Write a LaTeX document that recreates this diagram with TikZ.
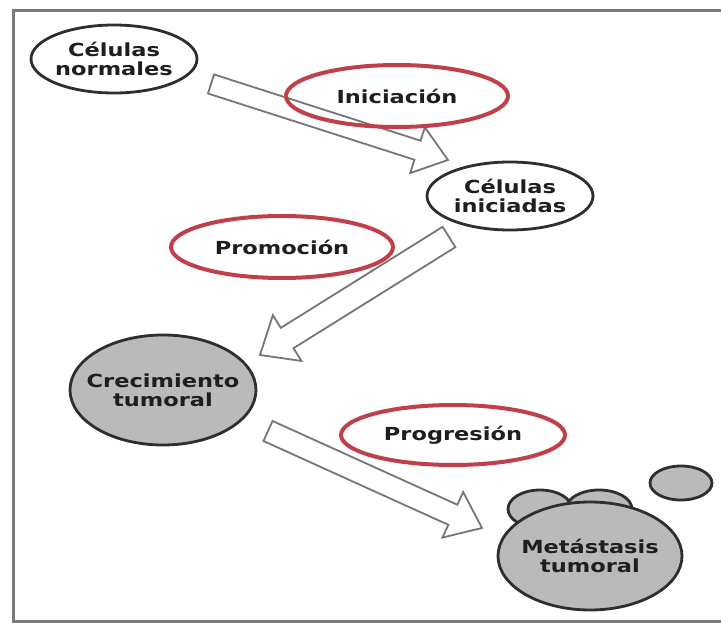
\documentclass[tikz,border=0pt]{standalone}
\usepackage{fontspec}
\newfontfamily\lblfont{DejaVu Sans}[FakeStretch=1.25]
\usetikzlibrary{shapes.geometric}
\definecolor{framegray}{HTML}{7A7A7A}
\definecolor{arrowgray}{HTML}{767676}
\definecolor{ringred}{HTML}{C0404A}
\definecolor{ringblack}{HTML}{2E2E2E}
\definecolor{tumorgray}{HTML}{BABABA}
\definecolor{txtcol}{HTML}{1E1E1E}
\newcommand{\blockarrow}[5]{%
  \begin{scope}
    \path (#1); \pgfgetlastxy{\bax}{\bay}
    \path (#2); \pgfgetlastxy{\bbx}{\bby}
    \pgfmathsetmacro{\bang}{atan2(\bby-\bay,\bbx-\bax)}
    \pgfmathsetmacro{\blen}{veclen(\bbx-\bax,\bby-\bay)}
    \draw[barrow, shift={(\bax,\bay)}, rotate=\bang]
      (0pt,-#3) -- ({\blen pt-#5},-#3) -- ({\blen pt-#5},-#4) -- (\blen pt,0pt)
      -- ({\blen pt-#5},#4) -- ({\blen pt-#5},#3) -- (0pt,#3) -- cycle;
  \end{scope}}
\begin{document}
\begin{tikzpicture}[x=1pt,y=-1pt,
  blackring/.style={ellipse, inner sep=0pt, draw=ringblack, line width=2.8pt, fill=white},
  redring/.style={ellipse, inner sep=0pt, draw=ringred, line width=4pt},
  tumor/.style={ellipse, inner sep=0pt, draw=ringblack, line width=2.8pt, fill=tumorgray},
  txt/.style={font=\lblfont\bfseries\fontsize{18pt}{19pt}\selectfont, text=txtcol, align=center, inner sep=0pt},
  barrow/.style={draw=arrowgray, line width=1.8pt, fill=white, line join=miter},
  framestyle/.style={draw=framegray, line width=3pt}]
\useasboundingbox (0,0) rectangle (721,623);
\draw[framestyle] (721,11) -- (13,11) -- (13,621) -- (721,621);

% arrows
\coordinate (a1s) at (211,84);  \coordinate (a1e) at (448,160);
\coordinate (a2s) at (449,237); \coordinate (a2e) at (260,355);
\coordinate (a3s) at (268,431); \coordinate (a3e) at (482,528);
\blockarrow{a1s}{a1e}{10pt}{24pt}{32pt}
\blockarrow{a2s}{a2e}{12pt}{27pt}{32pt}
\blockarrow{a3s}{a3e}{11pt}{25pt}{32pt}

% white cells
\node[blackring, minimum width=166pt, minimum height=68pt,
      label={[txt]center:{Células\\normales}}] (normal) at (114,59) {};
\node[blackring, minimum width=166pt, minimum height=68pt,
      label={[txt]center:{Células\\iniciadas}}] (inic) at (510,196) {};

% stage labels
\node[redring, minimum width=222pt, minimum height=62pt,
      label={[txt]center:{Iniciación}}] (ini) at (397,96) {};
\node[redring, minimum width=222pt, minimum height=62pt,
      label={[txt]center:{Promoción}}] (prom) at (282,247) {};
\node[redring, minimum width=224pt, minimum height=60pt,
      label={[txt]center:{Progresión}}] (prog) at (453,435) {};

% tumours
\node[tumor, minimum width=186pt, minimum height=110pt,
      label={[txt]center:{Crecimiento\\tumoral}}] (crec) at (163,390) {};
\node[tumor, minimum width=64pt, minimum height=38pt] (m1) at (540,509) {};
\node[tumor, minimum width=66pt, minimum height=38pt] (m2) at (599,509) {};
\node[tumor, minimum width=62pt, minimum height=34pt] (m3) at (681,483) {};
\node[tumor, minimum width=184pt, minimum height=108pt,
      label={[txt]center:{Metástasis\\tumoral}}] (meta) at (590,556) {};
\end{tikzpicture}
\end{document}
